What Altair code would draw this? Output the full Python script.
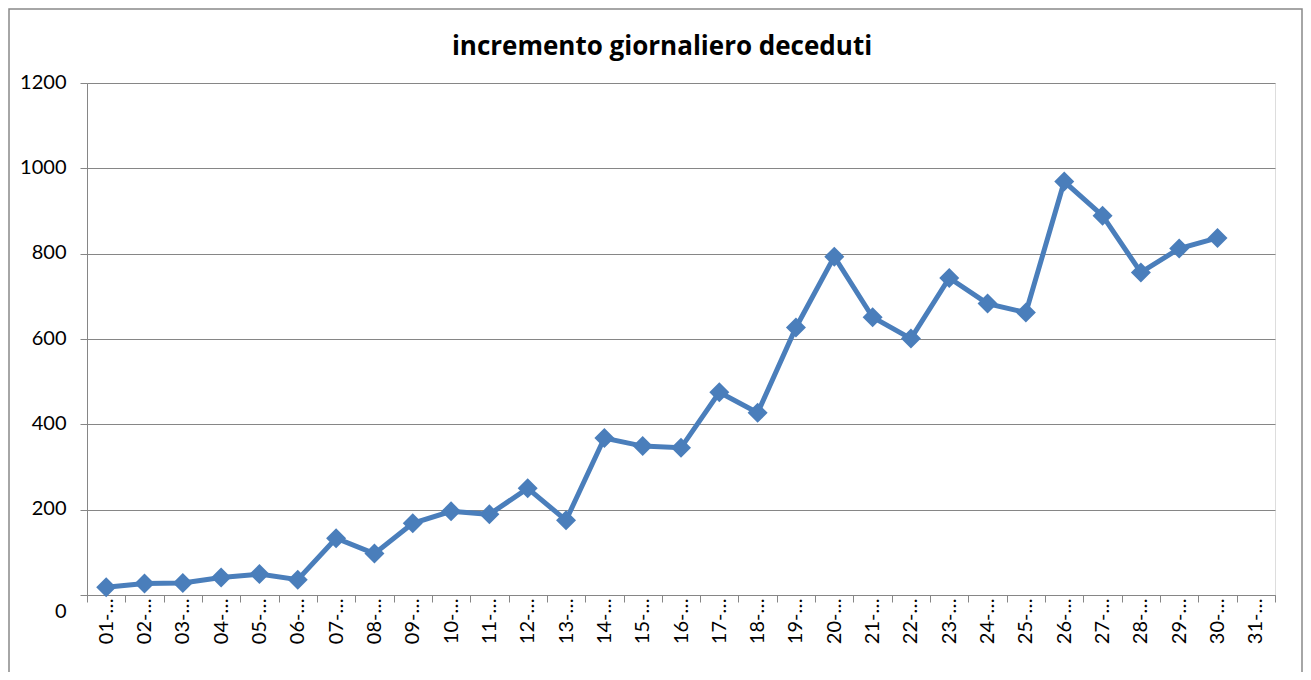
import altair as alt
import pandas as pd

# categories (day labels, truncated as in the original)
days = ["01-…", "02-…", "03-…", "04-…", "05-…", "06-…", "07-…", "08-…", "09-…", "10-…",
        "11-…", "12-…", "13-…", "14-…", "15-…", "16-…", "17-…", "18-…", "19-…", "20-…",
        "21-…", "22-…", "23-…", "24-…", "25-…", "26-…", "27-…", "28-…", "29-…", "30-…",
        "31-…"]

# daily increment of deaths (30 values, day 31 empty)
deaths = [18, 27, 28, 41, 49, 36, 133, 97, 168, 196,
          189, 250, 175, 368, 349, 345, 475, 427, 627, 793,
          651, 601, 743, 683, 662, 969, 889, 756, 812, 837]

y_ticks = [0, 200, 400, 600, 800, 1000, 1200]
title_text = "incremento giornaliero deceduti"

df = pd.DataFrame({"giorno": days[:len(deaths)], "deceduti": deaths})

W, H = 1188, 512
PAD_L, PAD_T, PAD_R, PAD_B = 79, 75, 28, 77
BLUE = "#4a7ebb"
GRAY = "#868686"
FONT = "Lato"

x_enc = alt.X(
    "giorno:N",
    sort=days,
    scale=alt.Scale(domain=days, paddingInner=0, paddingOuter=0),
    axis=alt.Axis(
        title=None,
        labelAngle=270,
        tickBand="extent",
        tickSize=7,
        labelPadding=-4,
        grid=False,
        domainColor=GRAY,
        tickColor=GRAY,
        labelFontSize=20,
        labelFont=FONT,
        labelColor="black",
        labelLimit=200,
    ),
)
y_enc = alt.Y(
    "deceduti:Q",
    scale=alt.Scale(domain=[0, 1200], nice=False),
    axis=alt.Axis(
        title=None,
        values=y_ticks,
        format="d",
        grid=True,
        gridColor=GRAY,
        domainColor=GRAY,
        tickColor=GRAY,
        tickSize=7,
        labelPadding=14,
        labelFontSize=20,
        labelFont=FONT,
        labelColor="black",
        labelOffset={"condition": {"test": "datum.value === 0", "value": 16}, "value": -1},
    ),
)

line = alt.Chart(df).mark_line(
    color=BLUE,
    strokeWidth=5,
    point=alt.OverlayMarkDef(shape="diamond", size=400, filled=True, color=BLUE, opacity=1),
).encode(x=x_enc, y=y_enc)

one = pd.DataFrame({"t": [title_text]})

border = alt.Chart(one).mark_rect(filled=False, stroke="#898989", strokeWidth=1.5).encode(
    x=alt.value(-PAD_L + 1),
    x2=alt.value(W + PAD_R - 1),
    y=alt.value(-PAD_T + 1),
    y2=alt.value(H + PAD_B + 20),
)

title = alt.Chart(one).mark_text(
    font="Open Sans", fontSize=26, fontWeight="bold", color="black",
    align="center", baseline="alphabetic",
).encode(
    text="t:N",
    x=alt.value(575),
    y=alt.value(-28),
)

chart = alt.layer(border, line, title).properties(
    width=W,
    height=H,
    autosize=alt.AutoSizeParams(type="none"),
    padding={"left": PAD_L, "top": PAD_T, "right": PAD_R, "bottom": PAD_B},
).configure_view(stroke=None).configure(background="white")

chart.save("out.html", embed_options={"renderer": "svg", "actions": False})
